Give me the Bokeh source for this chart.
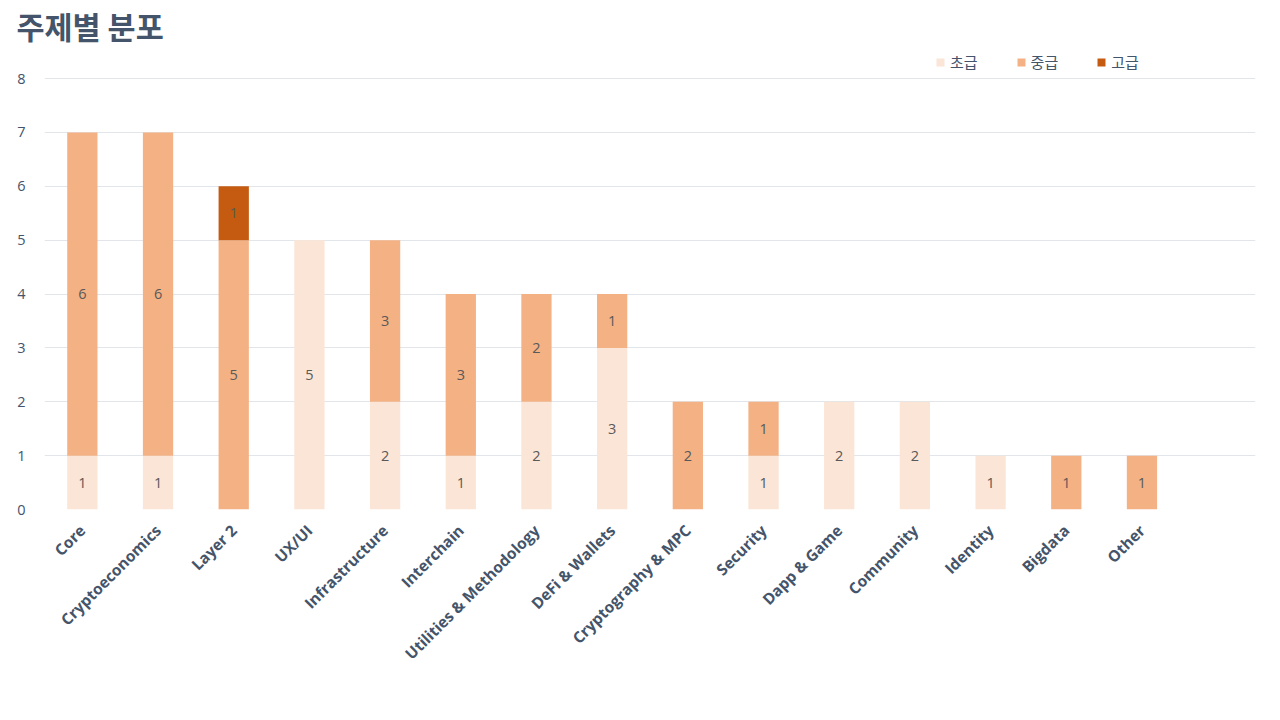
import math
from bokeh.plotting import figure
from bokeh.models import ColumnDataSource, FixedTicker, Legend, LegendItem, Range1d
from bokeh.core.properties import value
from bokeh.embed import file_html
from bokeh.resources import INLINE

categories = ["Core", "Cryptoeconomics", "Layer 2", "UX/UI", "Infrastructure", "Interchain",
              "Utilities & Methodology", "DeFi & Wallets", "Cryptography & MPC", "Security",
              "Dapp & Game", "Community", "Identity", "Bigdata", "Other"]
beginner = [1, 1, 0, 5, 2, 1, 2, 3, 0, 1, 2, 2, 1, 0, 0]
intermediate = [6, 6, 5, 0, 3, 3, 2, 1, 2, 1, 0, 0, 0, 1, 1]
advanced = [0, 0, 1, 0, 0, 0, 0, 0, 0, 0, 0, 0, 0, 0, 0]
series_names = ["초급", "중급", "고급"]
colors = ["#fbe5d6", "#f4b183", "#c55a11"]
y_ticks = [0, 1, 2, 3, 4, 5, 6, 7, 8]

FONT = "Open Sans, Noto Sans CJK KR, sans-serif"
KFONT = "Noto Sans CJK KR, Open Sans, sans-serif"

xs = list(range(len(categories)))
src = ColumnDataSource(dict(x=xs, beginner=beginner, intermediate=intermediate, advanced=advanced))

p = figure(width=1272, height=700, output_backend="svg", toolbar_location=None,
           x_range=Range1d(-0.5, 15.5), y_range=Range1d(0, 8.557),
           min_border_left=44, min_border_right=17, min_border_top=45, min_border_bottom=191)

p.title.text = "주제별 분포"
p.title.text_font = KFONT
p.title.text_font_size = "30.5px"
p.title.text_font_style = "bold"
p.title.text_color = "#44546a"
p.title.offset = -28
p.title.standoff = 2

renderers = p.vbar_stack(["beginner", "intermediate", "advanced"], x="x", width=0.4,
                         color=colors, source=src, line_color=None)

# value labels
lx, ly, lt = [], [], []
for i in xs:
    base = 0
    for vals in (beginner, intermediate, advanced):
        v = vals[i]
        if v > 0:
            lx.append(i)
            ly.append(base + v / 2)
            lt.append(str(v))
        base += v
p.text(x=lx, y=ly, text=lt, text_align="center", text_baseline="middle",
       text_font=value(FONT), text_font_size="14.5px", text_color="#595959")

# axes
p.yaxis.ticker = FixedTicker(ticks=y_ticks)
p.yaxis.axis_line_color = None
p.yaxis.major_tick_line_color = None
p.yaxis.minor_tick_line_color = None
p.yaxis.major_label_text_font = FONT
p.yaxis.major_label_text_font_size = "14.5px"
p.yaxis.major_label_text_color = "#44546a"
p.yaxis.major_label_standoff = 13

p.xaxis.ticker = FixedTicker(ticks=xs)
p.xaxis.major_label_overrides = {i: c for i, c in enumerate(categories)}
p.xaxis.major_label_orientation = math.pi / 4
p.xaxis.axis_line_color = None
p.xaxis.major_tick_line_color = None
p.xaxis.minor_tick_line_color = None
p.xaxis.major_label_text_font = FONT
p.xaxis.major_label_text_font_size = "15.5px"
p.xaxis.major_label_text_font_style = "bold"
p.xaxis.major_label_text_color = "#44546a"
p.xaxis.major_label_standoff = 12

p.xgrid.grid_line_color = None
p.ygrid.grid_line_color = "#e2e5ea"
p.outline_line_color = None

legend = Legend(items=[LegendItem(label=n, renderers=[r]) for n, r in zip(series_names, renderers)],
                orientation="horizontal", location=(891, 437), glyph_width=10, glyph_height=10,
                label_text_font=KFONT, label_text_font_size="15px", label_text_color="#44546a",
                spacing=38, label_standoff=5, padding=0, margin=0,
                border_line_color=None, background_fill_alpha=0)
p.add_layout(legend, "center")

open("out.html", "w").write(file_html(p, INLINE))
